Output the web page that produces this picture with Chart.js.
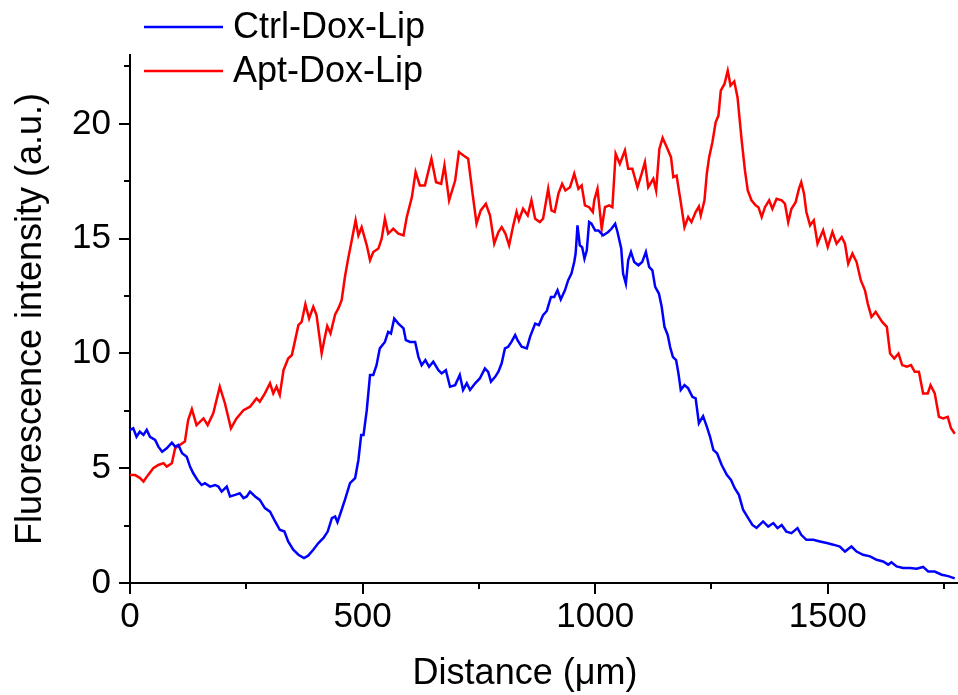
<!DOCTYPE html>
<html>
<head>
<meta charset="utf-8">
<script src="https://cdn.jsdelivr.net/npm/chart.js@4.4.0/dist/chart.umd.min.js"></script>
<style>
  html, body { margin: 0; padding: 0; background: #fff; }
  #wrap { width: 958px; height: 695px; }
</style>
</head>
<body>
<div id="wrap"><canvas id="profileChart"></canvas></div>
<script>
// series names
var seriesNames = ["Ctrl-Dox-Lip", "Apt-Dox-Lip"];

// Ctrl-Dox-Lip (blue)
var ctrlX = [
  0, 7, 14, 21, 29, 36, 43, 54, 61, 69,
  79, 90, 97, 104, 112, 122, 129, 136, 145, 154,
  161, 172, 183, 190, 197, 208, 215, 226, 236, 244,
  251, 258, 269, 279, 290, 301, 312, 322, 332, 340,
  351, 362, 374, 383, 394, 405, 416, 425, 434, 441,
  446, 455, 462, 473, 484, 491, 497, 502, 509, 516,
  523, 530, 537, 548, 555, 561, 568, 577, 588, 593,
  602, 613, 620, 627, 635, 643, 652, 663, 670, 679,
  688, 699, 709, 716, 724, 731, 742, 752, 763, 770,
  776, 785, 792, 799, 806, 813, 820, 828, 833, 842,
  853, 860, 871, 879, 888, 896, 905, 912, 919, 926,
  935, 942, 949, 955, 958, 962, 967, 972, 977, 982,
  987, 992, 1000, 1007, 1017, 1028, 1035, 1043, 1048, 1056,
  1060, 1066, 1071, 1077, 1084, 1093, 1101, 1109, 1116, 1123,
  1129, 1137, 1143, 1149, 1156, 1161, 1167, 1174, 1179, 1184,
  1192, 1200, 1209, 1216, 1223, 1232, 1240, 1247, 1254, 1262,
  1272, 1283, 1292, 1300, 1309, 1318, 1329, 1338, 1347, 1361,
  1372, 1383, 1392, 1401, 1411, 1422, 1435, 1443, 1454, 1469,
  1483, 1498, 1512, 1526, 1537, 1551, 1562, 1576, 1591, 1605,
  1619, 1630, 1637, 1648, 1662, 1677, 1691, 1705, 1716, 1730,
  1745, 1759, 1773
];
var ctrlY = [
  6.67, 6.74, 6.37, 6.59, 6.45, 6.67, 6.37, 6.23, 5.94, 5.72,
  5.87, 6.11, 5.94, 6.01, 5.65, 5.5, 5.07, 4.78, 4.49, 4.27,
  4.35, 4.2, 4.27, 4.2, 3.98, 4.2, 3.77, 3.84, 3.91, 3.7,
  3.77, 3.98, 3.77, 3.62, 3.26, 3.11, 2.68, 2.32, 2.24, 1.81,
  1.45, 1.23, 1.09, 1.19, 1.45, 1.74, 1.96, 2.24, 2.83, 2.9,
  2.65, 3.19, 3.62, 4.35, 4.57, 5.36, 6.45, 6.45, 7.53, 9.06,
  9.06, 9.49, 10.22, 10.5, 10.94, 10.87, 11.52, 11.3, 11.09, 10.58,
  10.5, 10.5, 9.85, 9.49, 9.71, 9.42, 9.64, 9.27, 9.13, 9.27,
  8.55, 8.62, 9.06, 8.41, 8.7, 8.41, 8.7, 8.91, 9.35, 9.2,
  8.77, 8.98, 9.2, 9.57, 10.22, 10.29, 10.5, 10.8, 10.58, 10.29,
  10.22, 10.72, 11.3, 11.23, 11.67, 11.85, 12.46, 12.46, 12.75, 12.35,
  12.75, 13.19, 13.48, 13.98, 14.35, 15.58, 14.71, 14.63, 14.13, 14.49,
  15.72, 15.65, 15.36, 15.36, 15.14, 15.29, 15.43, 15.65, 15.29, 14.57,
  13.48, 13.04, 14.06, 14.42, 13.98, 13.84, 13.98, 14.42, 13.77, 13.62,
  12.9, 12.61, 12.03, 11.16, 10.8, 10.29, 9.85, 9.71, 9.13, 8.41,
  8.62, 8.48, 8.11, 8.04, 6.96, 7.27, 6.81, 6.37, 5.8, 5.65,
  5.14, 4.71, 4.49, 4.13, 3.84, 3.19, 2.83, 2.53, 2.4, 2.68,
  2.46, 2.61, 2.39, 2.53, 2.24, 2.17, 2.39, 2.1, 1.88, 1.88,
  1.81, 1.74, 1.67, 1.59, 1.37, 1.59, 1.37, 1.23, 1.16, 1.01,
  0.94, 0.8, 0.9, 0.72, 0.65, 0.65, 0.62, 0.7, 0.5, 0.5,
  0.36, 0.3, 0.2
];

// Apt-Dox-Lip (red)
var aptX = [
  0, 11, 21, 29, 39, 50, 61, 72, 79, 90,
  97, 107, 118, 125, 133, 143, 158, 167, 179, 193,
  204, 217, 229, 244, 258, 272, 279, 290, 301, 308,
  315, 322, 330, 340, 348, 355, 362, 369, 377, 385,
  394, 401, 412, 419, 424, 431, 441, 448, 455, 462,
  469, 476, 485, 491, 498, 509, 516, 523, 534, 541,
  548, 555, 566, 577, 588, 595, 606, 614, 623, 634,
  641, 648, 658, 669, 676, 686, 699, 707, 717, 727,
  736, 745, 754, 765, 774, 783, 792, 799, 807, 815,
  824, 831, 836, 845, 855, 863, 871, 881, 888, 899,
  906, 913, 921, 929, 936, 946, 955, 964, 971, 978,
  987, 995, 998, 1005, 1014, 1021, 1030, 1037, 1044, 1053,
  1064, 1071, 1080, 1091, 1100, 1107, 1114, 1125, 1131, 1138,
  1145, 1154, 1163, 1168, 1175, 1184, 1192, 1200, 1207, 1216,
  1223, 1227, 1235, 1240, 1245, 1252, 1259, 1265, 1270, 1278,
  1285, 1291, 1299, 1306, 1315, 1322, 1328, 1336, 1345, 1351,
  1358, 1365, 1374, 1381, 1390, 1401, 1408, 1415, 1422, 1431,
  1438, 1443, 1449, 1454, 1462, 1470, 1478, 1490, 1500, 1510,
  1519, 1530, 1537, 1544, 1553, 1562, 1571, 1580, 1586, 1594,
  1603, 1610, 1617, 1627, 1634, 1643, 1652, 1660, 1670, 1679,
  1687, 1696, 1705, 1715, 1721, 1730, 1739, 1748, 1758, 1765,
  1773
];
var aptY = [
  4.71, 4.7, 4.58, 4.42, 4.71, 5.0, 5.14, 5.22, 5.07, 5.22,
  5.87, 6.01, 6.16, 7.1, 7.57, 6.88, 7.17, 6.88, 7.39, 8.55,
  7.83, 6.74, 7.17, 7.53, 7.68, 8.04, 7.9, 8.26, 8.7, 8.26,
  8.55, 8.19, 9.27, 9.78, 9.93, 10.58, 11.23, 11.37, 12.14, 11.52,
  12.03, 11.67, 10.0, 10.72, 11.19, 10.87, 11.7, 11.96, 12.32, 13.33,
  14.13, 14.85, 15.8, 15.14, 15.5, 14.71, 14.06, 14.42, 14.57, 15.0,
  15.87, 15.22, 15.43, 15.22, 15.14, 15.94, 16.81, 17.9, 17.32, 17.32,
  17.9, 18.48, 17.46, 17.39, 18.19, 16.67, 17.53, 18.77, 18.62, 18.48,
  17.03, 15.65, 16.23, 16.52, 16.01, 14.78, 15.29, 15.5, 15.22, 14.71,
  15.58, 16.16, 15.8, 16.3, 16.01, 16.67, 15.87, 15.72, 15.87, 17.17,
  16.23, 16.16, 16.96, 17.39, 17.1, 17.24, 17.83, 17.17, 17.32, 16.45,
  16.37, 16.16, 16.67, 17.17, 15.43, 16.37, 16.45, 16.37, 18.7, 18.26,
  18.84, 18.04, 18.04, 17.24, 17.83, 18.33, 17.24, 17.61, 17.1, 18.91,
  19.39, 18.98, 18.55, 17.68, 17.75, 16.59, 15.5, 15.94, 15.72, 16.16,
  16.4, 16.01, 16.67, 17.83, 18.55, 19.2, 20.07, 20.36, 21.45, 21.74,
  22.32, 21.67, 21.85, 21.16, 19.27, 17.97, 17.1, 16.67, 16.45, 16.37,
  15.94, 16.37, 16.67, 16.3, 16.74, 16.67, 16.52, 15.72, 16.3, 16.59,
  17.17, 17.46, 16.96, 16.16, 15.58, 15.8, 14.78, 15.36, 14.63, 15.29,
  14.78, 15.07, 14.78, 13.91, 14.35, 13.98, 13.19, 12.75, 12.17, 11.59,
  11.81, 11.59, 11.37, 11.16, 10.0, 9.78, 10.0, 9.49, 9.42, 9.49,
  9.2, 9.2, 8.26, 8.26, 8.62, 8.26, 7.24, 7.17, 7.24, 6.74,
  6.5
];

// axes
var xTitle = "Distance (\u03bcm)";
var yTitle = "Fluorescence intensity (a.u.)";
var xRange = [0, 1780];
var yRange = [0, 23];
// tick positions (labelled ones are in the *Labels arrays)
var xTicks = [0, 250, 500, 750, 1000, 1250, 1500, 1750];
var xLabels = [0, 500, 1000, 1500];
var yTicks = [0, 2.5, 5, 7.5, 10, 12.5, 15, 17.5, 20, 22.5];
var yLabels = [0, 5, 10, 15, 20];

var FONT = '"Liberation Sans", Arial, sans-serif';

function toPoints(xs, ys) {
  var pts = [];
  for (var i = 0; i < xs.length; i++) {
    pts.push({ x: xs[i], y: ys[i] });
  }
  return pts;
}

// minor ticks, axis titles and the legend are drawn here
var extras = {
  id: "extras",
  afterDraw: function (chart) {
    var ctx = chart.ctx;
    var xs = chart.scales.x;
    var ys = chart.scales.y;
    ctx.save();

    // short minor ticks
    ctx.strokeStyle = "#000";
    ctx.lineWidth = 2;
    ctx.beginPath();
    xs.ticks.forEach(function (t) {
      if (xLabels.indexOf(t.value) >= 0) return;
      var px = Math.round(xs.getPixelForValue(t.value));
      ctx.moveTo(px, xs.top);
      ctx.lineTo(px, xs.top + 6);
    });
    ys.ticks.forEach(function (t) {
      if (yLabels.indexOf(t.value) >= 0) return;
      var py = Math.round(ys.getPixelForValue(t.value));
      ctx.moveTo(ys.right, py);
      ctx.lineTo(ys.right - 6, py);
    });
    ctx.stroke();

    // axis titles
    ctx.fillStyle = "#000";
    ctx.font = "36px " + FONT;
    ctx.textAlign = "center";
    ctx.textBaseline = "middle";
    ctx.fillText(xTitle, 525, 674);
    ctx.save();
    ctx.translate(31, (ys.top + ys.bottom) / 2);
    ctx.rotate(-Math.PI / 2);
    ctx.fillText(yTitle, 0, 0);
    ctx.restore();

    // legend
    ctx.textAlign = "left";
    chart.data.datasets.forEach(function (ds, i) {
      var y = 27 + i * 44;
      ctx.strokeStyle = ds.borderColor;
      ctx.lineWidth = 2.5;
      ctx.beginPath();
      ctx.moveTo(144, y);
      ctx.lineTo(223, y);
      ctx.stroke();
      ctx.fillStyle = "#000";
      ctx.fillText(ds.label, 233, y + 1);
    });

    ctx.restore();
  }
};

function setTicks(list) {
  return function (scale) {
    scale.ticks = list.map(function (v) { return { value: v }; });
  };
}

var ctx1 = document.getElementById("profileChart");
var profileChart = new Chart(ctx1, {
  type: "line",
  data: {
    datasets: [
      {
        label: seriesNames[0],
        data: toPoints(ctrlX, ctrlY),
        borderColor: "#0000ff",
        borderWidth: 2.5,
        pointRadius: 0,
        tension: 0,
        fill: false
      },
      {
        label: seriesNames[1],
        data: toPoints(aptX, aptY),
        borderColor: "#ff0000",
        borderWidth: 2.5,
        pointRadius: 0,
        tension: 0,
        fill: false
      }
    ]
  },
  options: {
    responsive: true,
    maintainAspectRatio: false,
    animation: false,
    layout: { padding: { top: 55, right: 0, left: 0, bottom: 0 } },
    plugins: {
      legend: { display: false },
      tooltip: { enabled: false }
    },
    scales: {
      x: {
        type: "linear",
        min: xRange[0],
        max: xRange[1],
        afterBuildTicks: setTicks(xTicks),
        border: { color: "#000", width: 2 },
        grid: {
          drawOnChartArea: false,
          drawTicks: true,
          tickLength: 11,
          lineWidth: 2,
          tickColor: function (c) {
            return xLabels.indexOf(c.tick.value) >= 0 ? "#000" : "rgba(0,0,0,0)";
          }
        },
        ticks: {
          autoSkip: false,
          maxRotation: 0,
          padding: 2,
          color: "#000",
          font: { family: FONT, size: 35 },
          callback: function (v) {
            return xLabels.indexOf(v) >= 0 ? String(v) : "";
          }
        },
        afterFit: function (scale) {
          scale.height = 112;
        }
      },
      y: {
        type: "linear",
        min: yRange[0],
        max: yRange[1],
        afterBuildTicks: setTicks(yTicks),
        border: { color: "#000", width: 2 },
        grid: {
          drawOnChartArea: false,
          drawTicks: true,
          tickLength: 11,
          lineWidth: 2,
          tickColor: function (c) {
            return yLabels.indexOf(c.tick.value) >= 0 ? "#000" : "rgba(0,0,0,0)";
          }
        },
        ticks: {
          autoSkip: false,
          padding: 8,
          color: "#000",
          font: { family: FONT, size: 35 },
          callback: function (v) {
            return yLabels.indexOf(v) >= 0 ? String(v) : "";
          }
        },
        afterFit: function (scale) {
          scale.width = 130;
        }
      }
    }
  },
  plugins: [extras]
});
</script>
</body>
</html>
